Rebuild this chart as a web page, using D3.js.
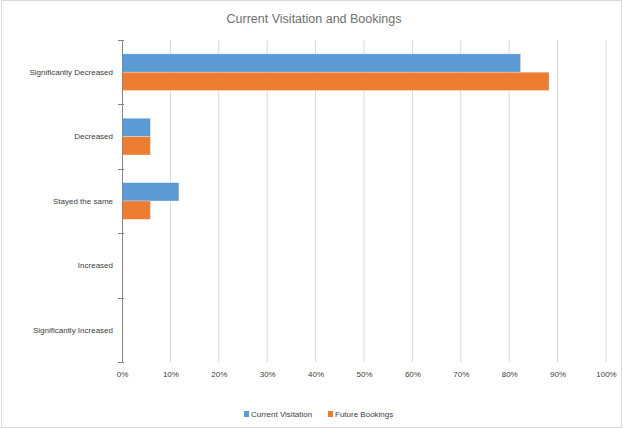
<!DOCTYPE html>
<html>
<head>
<meta charset="utf-8">
<script src="https://cdn.jsdelivr.net/npm/d3@7"></script>
<style>
  body { margin: 0; background: #fff; }
  text { font-family: "Liberation Sans", Arial, sans-serif; fill: #404040; }
</style>
</head>
<body>
<div id="chart"></div>
<script>
const categories = ['Significantly Decreased', 'Decreased', 'Stayed the same', 'Increased', 'Significantly Increased']
const seriesNames = ['Current Visitation', 'Future Bookings']
const currentVisitation = [0.8235, 0.0588, 0.1176, 0, 0]
const futureBookings = [0.8824, 0.0588, 0.0588, 0, 0]
const xTicks = [0, 0.1, 0.2, 0.3, 0.4, 0.5, 0.6, 0.7, 0.8, 0.9, 1]
const colors = ['#5b9bd5', '#ed7d31']

const W = 623, H = 429
const MARGIN = { TOP: 40, BOTTOM: 67, LEFT: 122, RIGHT: 17 }
const WIDTH = W - MARGIN.LEFT - MARGIN.RIGHT
const HEIGHT = H - MARGIN.TOP - MARGIN.BOTTOM

const svg = d3.select('#chart').append('svg')
  .attr('width', W)
  .attr('height', H)

// chart frame
svg.append('rect')
  .attr('x', 1.5).attr('y', 0.5)
  .attr('width', W - 3).attr('height', H - 2)
  .attr('fill', 'none')
  .attr('stroke', '#d9d9d9')

svg.append('text')
  .attr('x', 314)
  .attr('y', 23)
  .attr('text-anchor', 'middle')
  .style('font-size', '12.5px')
  .style('fill', '#6f6f6f')
  .text('Current Visitation and Bookings')

const g = svg.append('g')
  .attr('transform', `translate(${MARGIN.LEFT}, ${MARGIN.TOP})`)

const x = d3.scaleLinear().domain([0, 1]).range([0, WIDTH])

const y0 = d3.scaleBand()
  .domain(categories)
  .range([0, HEIGHT])
  .paddingInner(0.43)
  .paddingOuter(0.215)

const y1 = d3.scaleBand()
  .domain(seriesNames)
  .range([0, y0.bandwidth()])

// gridlines
g.append('g')
  .selectAll('line')
  .data(xTicks.slice(1))
  .enter().append('line')
    .attr('x1', d => x(d)).attr('x2', d => x(d))
    .attr('y1', 0).attr('y2', HEIGHT)
    .attr('stroke', '#d9d9d9')

// x axis labels
const xAxis = d3.axisBottom(x)
  .tickValues(xTicks)
  .tickFormat(d3.format('.0%'))
  .tickSize(0)
  .tickPadding(9)
const xg = g.append('g')
  .attr('transform', `translate(0, ${HEIGHT})`)
  .call(xAxis)
xg.select('.domain').remove()
xg.selectAll('text').style('font-size', '8px').style('fill', '#404040')

// bars
const rows = categories.map((c, i) => ({ cat: c, vals: [currentVisitation[i], futureBookings[i]] }))
g.append('g')
  .selectAll('g')
  .data(rows)
  .enter().append('g')
    .attr('transform', d => `translate(0, ${y0(d.cat)})`)
  .selectAll('rect')
  .data(d => d.vals.map((v, j) => ({ s: seriesNames[j], v: v, c: colors[j] })))
  .enter().append('rect')
    .attr('x', 0)
    .attr('y', d => y1(d.s))
    .attr('width', d => x(d.v))
    .attr('height', y1.bandwidth())
    .attr('fill', d => d.c)
    .attr('stroke', '#fff')
    .attr('stroke-opacity', 0.5)
    .attr('stroke-width', 0.6)

// y axis: line, boundary ticks, centered labels
const ya = g.append('g')
ya.append('line')
  .attr('x1', 0.5).attr('x2', 0.5)
  .attr('y1', 0).attr('y2', HEIGHT)
  .attr('stroke', '#868686')
const bounds = categories.map(c => y0(c) - y0.step() * y0.paddingOuter()).concat([HEIGHT])
ya.selectAll('line.tick')
  .data(bounds)
  .enter().append('line')
    .attr('class', 'tick')
    .attr('x1', -4).attr('x2', 2)
    .attr('y1', d => Math.round(d) + 0.5).attr('y2', d => Math.round(d) + 0.5)
    .attr('stroke', '#868686')
ya.selectAll('text')
  .data(categories)
  .enter().append('text')
    .attr('x', -9)
    .attr('y', d => y0(d) + y0.bandwidth() / 2)
    .attr('dy', '0.35em')
    .attr('text-anchor', 'end')
    .style('font-size', '8px')
    .text(d => d)

// legend
const legend = svg.append('g')
  .attr('transform', `translate(244, 414)`)
const items = legend.selectAll('g')
  .data(seriesNames)
  .enter().append('g')
    .attr('transform', (d, i) => `translate(${i * 84}, 0)`)
items.append('rect')
  .attr('x', 0).attr('y', -3)
  .attr('width', 5).attr('height', 6)
  .attr('fill', (d, i) => colors[i])
items.append('text')
  .attr('x', 7)
  .attr('dy', '0.35em')
  .style('font-size', '8px')
  .text(d => d)
</script>
</body>
</html>
